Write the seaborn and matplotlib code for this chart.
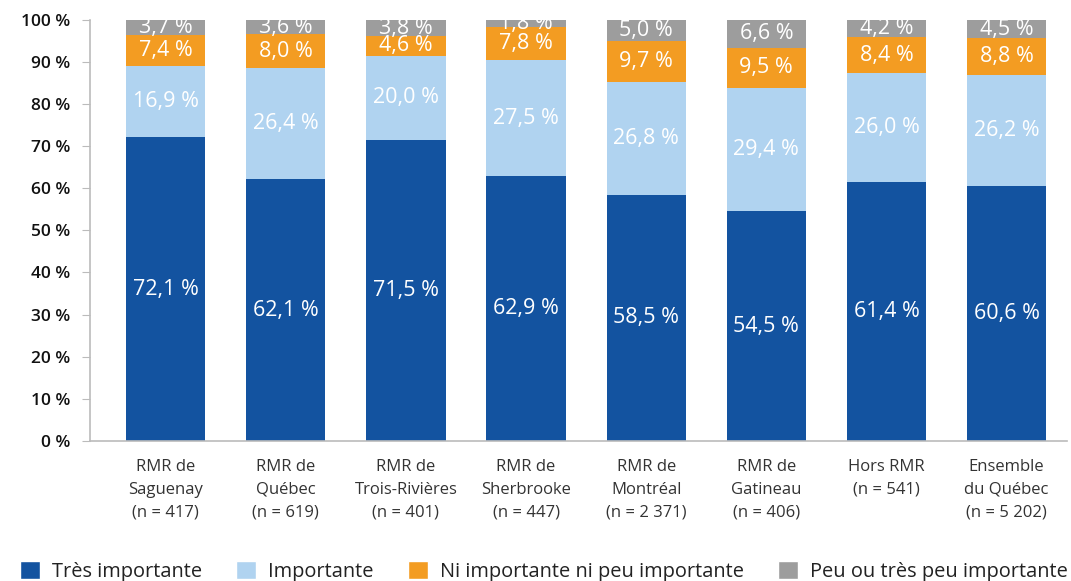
import numpy as np
import pandas as pd
import matplotlib
matplotlib.use("Agg")
import matplotlib.pyplot as plt
import seaborn as sns
from matplotlib.patches import Patch

# Data
categories = ["RMR de\nSaguenay\n(n = 417)", "RMR de\nQuébec\n(n = 619)",
              "RMR de\nTrois-Rivières\n(n = 401)", "RMR de\nSherbrooke\n(n = 447)",
              "RMR de\nMontréal\n(n = 2 371)", "RMR de\nGatineau\n(n = 406)",
              "Hors RMR\n(n = 541)", "Ensemble\ndu Québec\n(n = 5 202)"]
tres = [72.1, 62.1, 71.5, 62.9, 58.5, 54.5, 61.4, 60.6]
importante = [16.9, 26.4, 20.0, 27.5, 26.8, 29.4, 26.0, 26.2]
ni = [7.4, 8.0, 4.6, 7.8, 9.7, 9.5, 8.4, 8.8]
peu = [3.7, 3.6, 3.8, 1.8, 5.0, 6.6, 4.2, 4.5]

series = ["Très importante", "Importante", "Ni importante ni peu importante",
          "Peu ou très peu importante"]
colors = ["#1353A0", "#B0D3F0", "#F39C22", "#9D9D9D"]

sns.set_style("white")
plt.rcParams["font.family"] = ["Open Sans", "DejaVu Sans"]

fig = plt.figure(figsize=(10.71, 5.81), dpi=100)
ax = fig.add_axes([0.084, 0.241, 0.912, 0.725])

values = np.array([tres, importante, ni, peu])
cum = np.cumsum(values, axis=0)

# draw from top layer down so lower segments overlay
for i in range(3, -1, -1):
    df = pd.DataFrame({"cat": categories, "val": np.minimum(cum[i], 100)})
    sns.barplot(data=df, x="cat", y="val", color=colors[i], width=0.66,
                saturation=1, linewidth=0, ax=ax, zorder=2)

for j in range(len(categories)):
    for i in range(4):
        base = cum[i][j] - values[i][j]
        top = min(cum[i][j], 100)
        ax.text(j, (base + top) / 2, f"{values[i][j]:.1f} %".replace(".", ","),
                ha="center", va="center", color="white", fontsize=15.5, zorder=3)

ax.set_ylim(0, 100)
ax.set_xlim(-0.63, 7.5)
ax.set_yticks(range(0, 101, 10))
ax.set_yticklabels([f"{v} %" for v in range(0, 101, 10)], fontsize=12.5,
                   fontweight="semibold", color="#111111")
ax.set_xticks(range(len(categories)))
ax.set_xticklabels(categories, fontsize=12, color="#333333", linespacing=1.55)
ax.set_xlabel("")
ax.set_ylabel("")
for s in ["top", "right"]:
    ax.spines[s].set_visible(False)
for s in ["left", "bottom"]:
    ax.spines[s].set_color("#BBBBBB")
    ax.spines[s].set_linewidth(1.2)
ax.tick_params(axis="y", length=6, color="#BBBBBB", pad=8, left=True)
ax.tick_params(axis="x", length=0, pad=13)

handles = [Patch(facecolor=c, label=s) for c, s in zip(colors, series)]
fig.legend(handles=handles, loc="center left", bbox_to_anchor=(0.0187, 0.016),
           ncol=4, frameon=False, fontsize=14.4, handlelength=1.0,
           handleheight=1.0, columnspacing=1.7, handletextpad=0.6,
           borderpad=0, borderaxespad=0, labelcolor="#222222")

fig.savefig("out.png", dpi=100)
